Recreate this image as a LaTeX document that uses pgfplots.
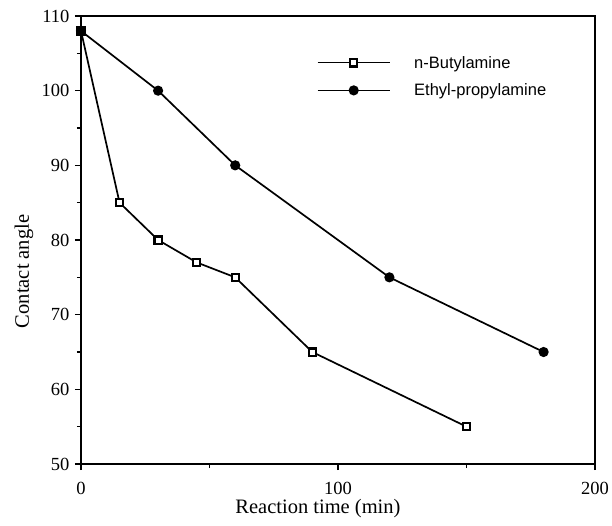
\documentclass[border=0pt]{standalone}
\usepackage{fontspec}
\setmainfont{Liberation Serif}
\newfontfamily\legfont{Liberation Sans}
\usepackage{pgfplots}
\pgfplotsset{compat=1.18}
\begin{document}
\begin{tikzpicture}
\useasboundingbox (-81pt,-61pt) rectangle (531pt,464pt);
\begin{axis}[
  at={(0pt,0pt)}, anchor=south west,
  width=514pt, height=448pt, scale only axis,
  font=\fontsize{20.5}{23}\selectfont,
  tick label style={font=\fontsize{18.5}{21}\selectfont},
  /pgf/number format/assume math mode=true,
  xmin=0, xmax=200, ymin=50, ymax=110,
  xtick={0,100,200}, ytick={50,60,...,110},
  minor xtick={50,150}, minor ytick={55,65,...,105},
  tick align=outside, xtick pos=bottom, ytick pos=left,
  major tick length=6pt, minor tick length=4pt,
  every tick/.style={black, line width=1.2pt},
  axis line style={line width=1.4pt},
  xticklabel style={yshift=-9pt},
  yticklabel style={xshift=-2pt},
  xlabel={Reaction time (min)}, ylabel={Contact angle},
  xlabel style={at={(axis description cs:0.461,-0.1)}, anchor=center},
  ylabel style={at={(axis description cs:-0.111,0.43)}, anchor=center},
  legend style={draw=none, fill=none, font=\legfont\fontsize{16.5}{18}\selectfont,
    at={(233pt,412pt)}, anchor=north west, row sep=10pt, column sep=22pt},
  legend cell align=left,
  legend image code/.code={\draw[#1,line width=1pt] (0pt,0pt) -- (72pt,0pt); \draw[#1] plot coordinates {(36pt,0pt)};},
]
\addplot[black, line width=1.7pt, mark=square*, mark size=3.6pt,
  mark options={fill=white, line width=2.2pt}]
  coordinates {(0,108) (15,85) (30,80) (45,77) (60,75) (90,65) (150,55)};
\addlegendentry{n-Butylamine}
\addplot[black, line width=1.7pt, mark=*, mark size=4.2pt, mark options={fill=black}]
  coordinates {(0,108) (30,100) (60,90) (120,75) (180,65)};
\addlegendentry{Ethyl-propylamine}
\end{axis}
\end{tikzpicture}
\end{document}
